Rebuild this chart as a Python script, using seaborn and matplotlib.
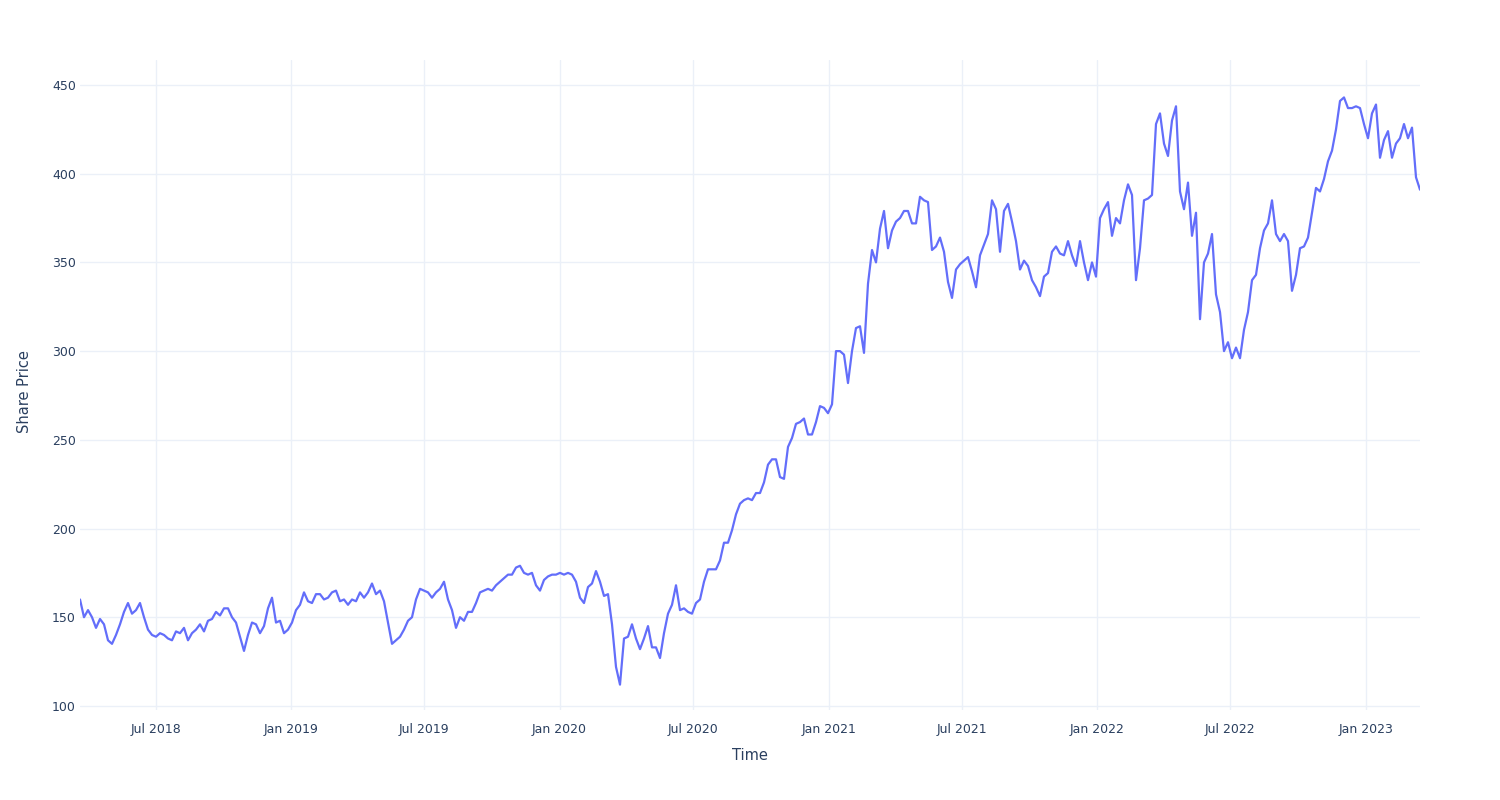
import matplotlib
matplotlib.use("Agg")
import matplotlib.pyplot as plt
import seaborn as sns
import pandas as pd

# ---- data ----
start_date = "2018-03-20"
end_date = "2023-03-16"

prices = [
    # Mar 2018 - Aug 2018
    160, 150, 154, 150, 144, 149, 146, 137, 135, 140, 146, 153, 158, 152,
    154, 158, 150, 143, 140, 139, 141, 140, 138, 137, 142, 141, 144, 137,
    # Aug 2018 - Jan 2019
    141, 143, 146, 142, 148, 149, 153, 151, 155, 155, 150, 147, 139, 131,
    140, 147, 146, 141, 145, 155, 161, 147, 148, 141, 143, 147, 154,
    # Jan 2019 - Jun 2019
    157, 164, 159, 158, 163, 163, 160, 161, 164, 165, 159, 160, 157, 160,
    159, 164, 161, 164, 169, 163, 165, 159, 147, 135, 137, 139, 143, 148,
    # Jul 2019 - Dec 2019
    150, 160, 166, 165, 164, 161, 164, 166, 170, 160, 154, 144, 150, 148,
    153, 153, 158, 164, 165, 166, 165, 168, 170, 172, 174, 174, 178,
    # Dec 2019 - May 2020
    179, 175, 174, 175, 168, 165, 171, 173, 174, 174, 175, 174, 175, 174,
    170, 161, 158, 167, 169, 176, 170, 162, 163, 146, 122, 112, 138, 139,
    # May 2020 - Oct 2020
    146, 138, 132, 138, 145, 133, 133, 127, 141, 152, 157, 168, 154, 155,
    153, 152, 158, 160, 170, 177, 177, 177, 182, 192, 192, 199, 208,
    # Oct 2020 - Jan 2021
    214, 216, 217, 216, 220, 220, 226, 236, 239, 239, 229, 228, 246, 251,
    259, 260, 262, 253, 253, 260, 269, 268, 265, 270,
    # Jan 2021 - Jul 2021
    300, 300, 298, 282, 300, 313, 314, 299, 338, 357, 350, 369, 379, 358,
    368, 373, 375, 379, 379, 372, 372, 387, 385, 384, 357, 359, 364, 356,
    339, 330, 346, 349,
    # Jul 2021 - Dec 2021
    351, 353, 345, 336, 354, 360, 366, 385, 380, 356, 379, 383, 373, 362,
    346, 351, 348, 340, 336, 331, 342, 344, 356, 359, 355, 354, 362,
    # Dec 2021 - May 2022
    354, 348, 362, 350, 340, 350, 342, 375, 380, 384, 365, 375, 372, 385,
    394, 388, 340, 358, 385, 386, 388, 428, 434, 417, 410, 430, 438, 390,
    # May 2022 - Oct 2022
    380, 395, 365, 378, 318, 350, 355, 366, 332, 322, 300, 305, 296, 302,
    296, 312, 322, 340, 343, 358, 368, 372, 385, 366, 362, 366, 362, 334,
    343, 358,
    # Oct 2022 - Mar 2023
    359, 364, 378, 392, 390, 397, 407, 413, 425, 441, 443, 437, 437, 438,
    437, 428, 420, 434, 439, 409, 419, 424, 409, 417, 420, 428, 420, 426,
    398, 391,
]

x_tick_labels = ["Jul 2018", "Jan 2019", "Jul 2019", "Jan 2020", "Jul 2020",
                 "Jan 2021", "Jul 2021", "Jan 2022", "Jul 2022", "Jan 2023"]
y_ticks = [100, 150, 200, 250, 300, 350, 400, 450]

x_title = "Time"
y_title = "Share Price"

# ---- build frame ----
dates = pd.date_range(start_date, end_date, periods=len(prices))
df = pd.DataFrame({x_title: dates, y_title: prices})

# ---- style ----
sns.set_theme(style="white")
plt.rcParams["font.family"] = ["DejaVu Sans"]
text_color = "#2a3f5f"
grid_color = "#EBF0F8"
line_color = "#636EFA"

fig = plt.figure(figsize=(15, 8), dpi=100)
fig.patch.set_facecolor("white")
ax = fig.add_axes([80 / 1500, 90 / 800, 1340 / 1500, 650 / 800])
ax.set_facecolor("white")

sns.lineplot(data=df, x=x_title, y=y_title, color=line_color,
             linewidth=1.6, ax=ax)

ax.set_xlim(dates[0], dates[-1])
ax.set_ylim(97.7, 464.1)

tick_dates = pd.to_datetime(x_tick_labels, format="%b %Y")
ax.set_xticks(tick_dates)
ax.set_xticklabels(x_tick_labels)
ax.set_yticks(y_ticks)
ax.set_yticklabels([str(v) for v in y_ticks])

ax.grid(True, color=grid_color, linewidth=1)
ax.set_axisbelow(True)
for s in ax.spines.values():
    s.set_visible(False)

ax.tick_params(axis="x", length=0, pad=9, labelsize=9, labelcolor=text_color)
ax.tick_params(axis="y", length=0, pad=3, labelsize=9, labelcolor=text_color)

ax.set_xlabel(x_title, fontsize=10.5, color=text_color)
ax.set_ylabel(y_title, fontsize=10.5, color=text_color)
ax.xaxis.set_label_coords(0.5, -0.058)
ax.yaxis.set_label_coords(-0.036, 0.49)

fig.savefig("out.png", dpi=100, facecolor="white")
